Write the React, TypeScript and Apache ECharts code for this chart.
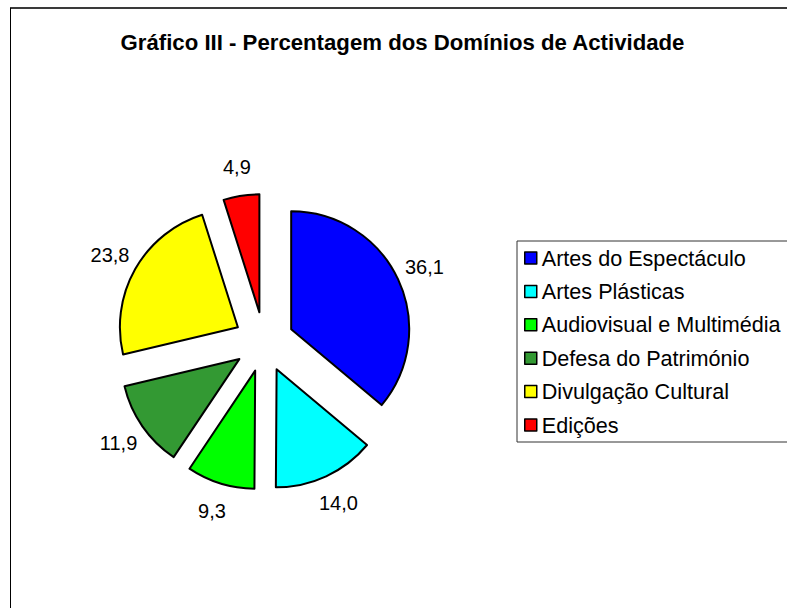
import React, { useEffect, useRef } from "react";
import * as echarts from "echarts";

const TITLE = "Gráfico III - Percentagem dos Domínios de Actividade";
const categories = [
  "Artes do Espectáculo",
  "Artes Plásticas",
  "Audiovisual e Multimédia",
  "Defesa do Património",
  "Divulgação Cultural",
  "Edições",
];
const values = [36.1, 14.0, 9.3, 11.9, 23.8, 4.9];
const colors = ["#0000FF", "#00FFFF", "#00FF00", "#339933", "#FFFF00", "#FF0000"];

const FONT = "Arial, 'Liberation Sans', sans-serif";
const LABEL_SIZE = 20;
const CX = 264;
const CY = 342;
const R = 118;
const OFFSET = 30;
const LABEL_GAP = 29;

const fmt = (v: number) => v.toFixed(1).replace(".", ",");

function textWidth(text: string, font: string): number {
  const c = document.createElement("canvas");
  const ctx = c.getContext("2d");
  if (!ctx) return text.length * 10;
  ctx.font = font;
  return ctx.measureText(text).width;
}

export default function App() {
  const ref = useRef<HTMLDivElement>(null);
  useEffect(() => {
    if (!ref.current) return;
    const chart = echarts.init(ref.current, null, { renderer: "svg" });
    const labelFont = `${LABEL_SIZE}px ${FONT}`;
    const option: any = {
      animation: false,
      backgroundColor: "#ffffff",
      graphic: [
        {
          type: "line",
          shape: { x1: 10, y1: 8, x2: 800, y2: 8 },
          style: { stroke: "#3a3a3a", lineWidth: 2 },
          silent: true,
        },
        {
          type: "line",
          shape: { x1: 10.5, y1: 8, x2: 10.5, y2: 620 },
          style: { stroke: "#000", lineWidth: 1 },
          silent: true,
        },
        {
          type: "text",
          x: 402.5,
          y: 42,
          style: {
            text: TITLE,
            fill: "#000",
            font: `bold 22.2px ${FONT}`,
            align: "center",
            verticalAlign: "middle",
          },
          silent: true,
        },
      ],
      legend: {
        orient: "vertical",
        left: 517,
        top: 241,
        padding: [6, 80, 6, 7],
        borderColor: "#333",
        borderWidth: 1,
        itemWidth: 12,
        itemHeight: 12,
        itemGap: 11.4,
        icon: "rect",
        selectedMode: false,
        itemStyle: { borderColor: "#000", borderWidth: 1.5 },
        textStyle: {
          fontFamily: FONT,
          fontSize: 21.6,
          lineHeight: 22,
          color: "#000",
        },
        data: categories,
      },
      series: [
        {
          type: "pie",
          center: [CX, CY],
          radius: R,
          startAngle: 90,
          clockwise: true,
          selectedMode: "multiple",
          selectedOffset: OFFSET,
          avoidLabelOverlap: false,
          emphasis: { disabled: true },
          itemStyle: { borderColor: "#000", borderWidth: 2 },
          select: { itemStyle: { borderColor: "#000", borderWidth: 2 } },
          label: {
            show: true,
            position: "outside",
            color: "#000",
            fontFamily: FONT,
            fontSize: LABEL_SIZE,
            formatter: (p: any) => fmt(p.value),
          },
          labelLine: { show: false, length: LABEL_GAP, length2: 0 },
          data: categories.map((name, i) => ({
            name,
            value: values[i],
            selected: true,
            itemStyle: { color: colors[i] },
            label: {
              distanceToLabelLine: -textWidth(fmt(values[i]), labelFont) / 2,
            },
          })),
        },
      ],
    };
    chart.setOption(option);
    return () => chart.dispose();
  }, []);
  return (
    <div
      ref={ref}
      style={{ position: "absolute", left: 0, top: 0, width: 787, height: 608 }}
    />
  );
}
